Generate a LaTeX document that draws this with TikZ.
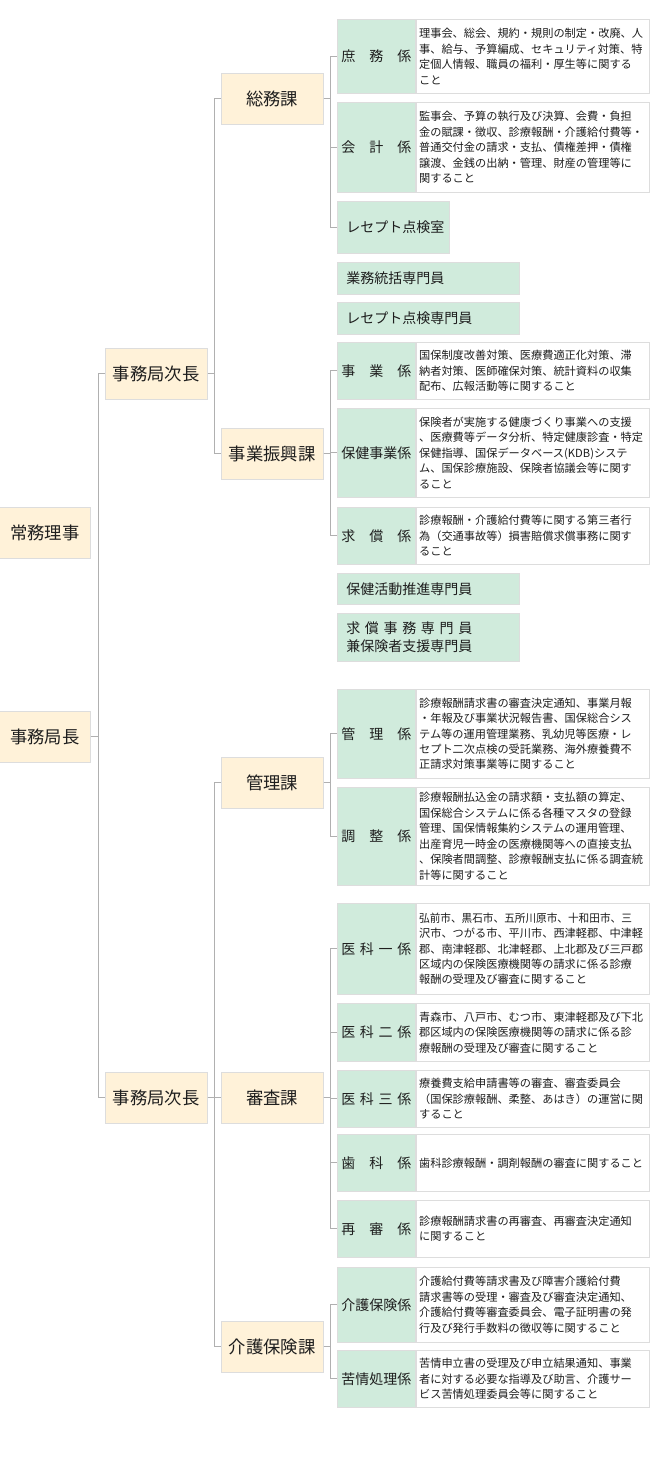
\documentclass[tikz,border=0pt]{standalone}
\usepackage{fontspec}
\usepackage{graphicx}
\setmainfont{Noto Sans CJK JP}
\usetikzlibrary{positioning}

\definecolor{cream}{RGB}{255,242,217}
\definecolor{mint}{RGB}{208,235,220}
\definecolor{edge}{RGB}{221,221,221}
\definecolor{wirecol}{RGB}{176,176,176}
\definecolor{ink}{RGB}{30,30,30}

\tikzset{
  post/.style={draw=edge, fill=cream, anchor=north west, minimum width=76.5pt,
    minimum height=38.25pt, inner sep=0pt, text=ink,
    font=\fontsize{13pt}{16pt}\selectfont},
  yaku/.style={minimum width=68.25pt},
  kakari/.style={draw=edge, fill=mint, anchor=north west, minimum width=58.5pt,
    inner sep=0pt, text=ink, font=\fontsize{10.5pt}{13pt}\selectfont},
  shigoto/.style={draw=edge, fill=white, text width=169.75pt, inner xsep=2.5pt,
    inner ysep=0pt, align=left, text=ink,
    font=\fontsize{8.4pt}{11.6pt}\selectfont},
  senmon/.style={draw=edge, fill=mint, anchor=north west, text width=123pt,
    inner xsep=6.75pt, inner ysep=0pt, align=left, text=ink,
    font=\fontsize{10.5pt}{13.5pt}\selectfont},
  rowh/.style={minimum height=#1*0.75pt},
  wire/.style={draw=wirecol, line width=0.75pt}
}

\begin{document}
\begin{tikzpicture}[x=0.75pt,y=-0.75pt]
\useasboundingbox (0,0) rectangle (650,1480);

% 役職・課
\node[post, yaku] (joumu) at (-1,507) {常務理事};
\node[post, yaku] (kyokuchou) at (-1,711) {事務局長};
\node[post] (jichouA) at (105,348) {事務局次長};
\node[post] (jichouB) at (105,1072) {事務局次長};
\node[post] (soumu) at (221,73) {総務課};
\node[post] (shinkou) at (221,428) {事業振興課};
\node[post] (kanri) at (221,757) {管理課};
\node[post] (shinsa) at (221,1072) {審査課};
\node[post] (kaigo) at (221,1321) {介護保険課};

% 総務課
\node[kakari, rowh=74] (shomu) at (337,19) {\makebox[52.5pt]{庶\hfill 務\hfill 係}};
\node[shigoto, rowh=74, right=0pt of shomu] (shomuT) {理事会、総会、規約・規則の制定・改廃、人\\事、給与、予算編成、セキュリティ対策、特\\定個人情報、職員の福利・厚生等に関する\\こと};
\node[kakari, rowh=90] (kaikei) at (337,102) {\makebox[52.5pt]{会\hfill 計\hfill 係}};
\node[shigoto, rowh=90, right=0pt of kaikei] (kaikeiT) {監事会、予算の執行及び決算、会費・負担\\金の賦課・徴収、診療報酬・介護給付費等・\\普通交付金の請求・支払、債権差押・債権\\譲渡、金銭の出納・管理、財産の管理等に\\関すること};
\node[senmon, text width=70.5pt, rowh=52] (shitsu) at (337,201) {レセプト点検室};
\node[senmon, rowh=32] (toukatsu) at (337,262) {業務統括専門員};
\node[senmon, rowh=32] (tenken) at (337,302) {レセプト点検専門員};

% 事業振興課
\node[kakari, rowh=57] (jigyou) at (337,342) {\makebox[52.5pt]{事\hfill 業\hfill 係}};
\node[shigoto, rowh=57, right=0pt of jigyou] (jigyouT) {国保制度改善対策、医療費適正化対策、滞\\納者対策、医師確保対策、統計資料の収集\\配布、広報活動等に関すること};
\node[kakari, rowh=89] (hoken) at (337,408) {\makebox[52.5pt]{保健事業係}};
\node[shigoto, rowh=89, right=0pt of hoken] (hokenT) {保険者が実施する健康づくり事業への支援\\、医療費等データ分析、特定健康診査・特定\\保健指導、国保データベース(KDB)システ\\ム、国保診療施設、保険者協議会等に関す\\ること};
\node[kakari, rowh=57] (kyushou) at (337,507) {\makebox[52.5pt]{求\hfill 償\hfill 係}};
\node[shigoto, rowh=57, right=0pt of kyushou] (kyushouT) {診療報酬・介護給付費等に関する第三者行\\為（交通事故等）損害賠償求償事務に関す\\ること};
\node[senmon, rowh=31] (katsudou) at (337,573) {保健活動推進専門員};
\node[senmon, rowh=48] (kyujimu) at (337,613) {\makebox[94.5pt]{求\hfill 償\hfill 事\hfill 務\hfill 専\hfill 門\hfill 員}\\兼保険者支援専門員};

% 管理課
\node[kakari, rowh=89] (kanriK) at (337,689) {\makebox[52.5pt]{管\hfill 理\hfill 係}};
\node[shigoto, rowh=89, right=0pt of kanriK] (kanriT) {診療報酬請求書の審査決定通知、事業月報\\・年報及び事業状況報告書、国保総合シス\\テム等の運用管理業務、乳幼児等医療・レ\\セプト二次点検の受託業務、海外療養費不\\正請求対策事業等に関すること};
\node[kakari, rowh=98] (chousei) at (337,787) {\makebox[52.5pt]{調\hfill 整\hfill 係}};
\node[shigoto, rowh=98, right=0pt of chousei] (chouseiT) {診療報酬払込金の請求額・支払額の算定、\\国保総合システムに係る各種マスタの登録\\管理、国保情報集約システムの運用管理、\\出産育児一時金の医療機関等への直接支払\\、保険者間調整、診療報酬支払に係る調査統\\計等に関すること};

% 審査課
\node[kakari, rowh=91] (ika1) at (337,903) {\makebox[52.5pt]{医\hfill 科\hfill 一\hfill 係}};
\node[shigoto, rowh=91, right=0pt of ika1] (ika1T) {\scalebox{0.95}[1]{弘前市、黒石市、五所川原市、十和田市、三}\\沢市、つがる市、平川市、西津軽郡、中津軽\\郡、南津軽郡、北津軽郡、上北郡及び三戸郡\\区域内の保険医療機関等の請求に係る診療\\報酬の受理及び審査に関すること};
\node[kakari, rowh=58] (ika2) at (337,1003) {\makebox[52.5pt]{医\hfill 科\hfill 二\hfill 係}};
\node[shigoto, rowh=58, right=0pt of ika2] (ika2T) {青森市、八戸市、むつ市、東津軽郡及び下北\\郡区域内の保険医療機関等の請求に係る診\\療報酬の受理及び審査に関すること};
\node[kakari, rowh=57] (ika3) at (337,1070) {\makebox[52.5pt]{医\hfill 科\hfill 三\hfill 係}};
\node[shigoto, rowh=57, right=0pt of ika3] (ika3T) {療養費支給申請書等の審査、審査委員会\\（国保診療報酬、柔整、あはき）の運営に関\\すること};
\node[kakari, rowh=57] (shika) at (337,1134) {\makebox[52.5pt]{歯\hfill 科\hfill 係}};
\node[shigoto, rowh=57, right=0pt of shika] (shikaT) {歯科診療報酬・調剤報酬の審査に関すること};
\node[kakari, rowh=57] (saishin) at (337,1200) {\makebox[52.5pt]{再\hfill 審\hfill 係}};
\node[shigoto, rowh=57, right=0pt of saishin] (saishinT) {診療報酬請求書の再審査、再審査決定通知\\に関すること};

% 介護保険課
\node[kakari, rowh=75] (kaigoK) at (337,1267) {\makebox[52.5pt]{介護保険係}};
\node[shigoto, rowh=75, right=0pt of kaigoK] (kaigoT) {介護給付費等請求書及び障害介護給付費\\請求書等の受理・審査及び審査決定通知、\\介護給付費等審査委員会、電子証明書の発\\行及び発行手数料の徴収等に関すること};
\node[kakari, rowh=57] (kujou) at (337,1350) {\makebox[52.5pt]{苦情処理係}};
\node[shigoto, rowh=57, right=0pt of kujou] (kujouT) {苦情申立書の受理及び申立結果通知、事業\\者に対する必要な指導及び助言、介護サー\\ビス苦情処理委員会等に関すること};

% 線
\foreach \c in {jichouA,jichouB} \draw[wire] (kyokuchou.east) -- ++(8,0) |- (\c.west);
\foreach \c in {soumu,shinkou} \draw[wire] (jichouA.east) -- ++(7,0) |- (\c.west);
\foreach \c in {kanri,shinsa,kaigo} \draw[wire] (jichouB.east) -- ++(7,0) |- (\c.west);
\foreach \c in {shomu,kaikei,shitsu} \draw[wire] (soumu.east) -- ++(7,0) |- (\c.west);
\foreach \c in {jigyou,hoken,kyushou} \draw[wire] (shinkou.east) -- ++(7,0) |- (\c.west);
\foreach \c in {kanriK,chousei} \draw[wire] (kanri.east) -- ++(7,0) |- (\c.west);
\foreach \c in {ika1,ika2,ika3,shika,saishin} \draw[wire] (shinsa.east) -- ++(7,0) |- (\c.west);
\foreach \c in {kaigoK,kujou} \draw[wire] (kaigo.east) -- ++(7,0) |- (\c.west);
\end{tikzpicture}
\end{document}
